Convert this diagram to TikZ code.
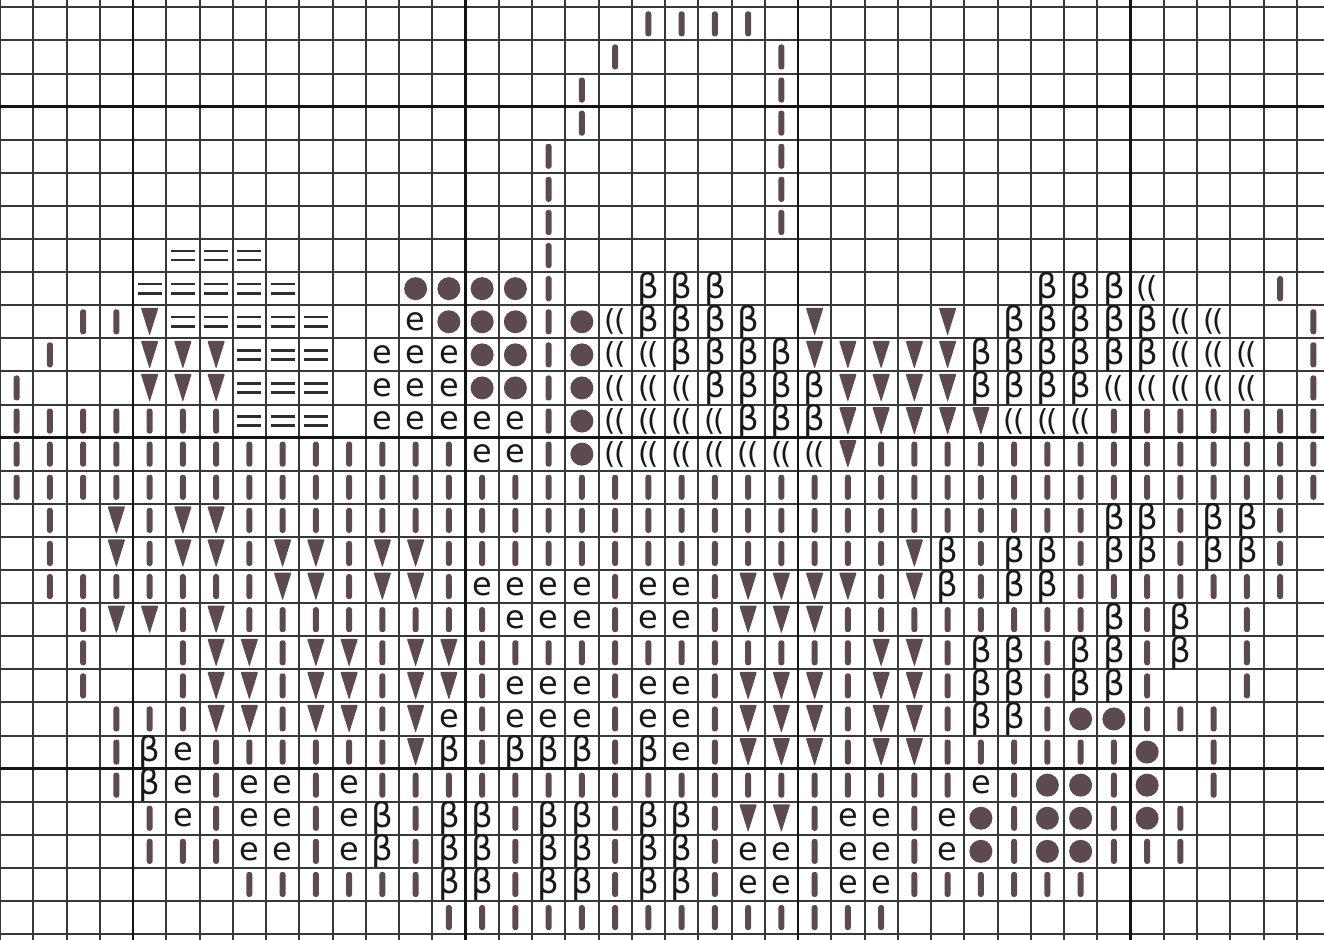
\documentclass[tikz,border=0pt]{standalone}
\usepackage{fontspec}
\setmainfont{DejaVu Sans}
\definecolor{ink}{RGB}{92,74,79}
\begin{document}
\begin{tikzpicture}[x=16.625pt,y=-16.55pt,
  gridline/.style={line width=1pt,draw=black!78},
  majorline/.style={line width=1.3pt,draw=black!92},
  stitchbar/.style={rectangle,fill=ink,minimum width=2.9pt,minimum height=12.5pt,rounded corners=1.2pt,inner sep=0pt},
  stitchdot/.style={circle,fill=ink,minimum size=11.5pt,inner sep=0pt},
  stitchletter/.style={inner sep=0pt,text=black!90,font=\fontsize{16}{16}\selectfont},
  stitchbeta/.style={inner sep=0pt,text=black!90,font=\fontsize{17}{17}\selectfont},
  stitchparen/.style={inner sep=0pt,text=black!90,font=\fontsize{14.5}{14.5}\selectfont},
  eqline/.style={line width=1.25pt,draw=black!82},
  trifill/.style={fill=ink,rounded corners=0.5pt}
]
\useasboundingbox (0,-0.2205) rectangle (39.82,28.178);
\fill[white] (0,-0.2205) rectangle (39.82,28.178);
\clip (0,-0.2205) rectangle (39.82,28.178);
% grid
\foreach \k in {0,...,40} \draw[gridline] (\k,-1) -- (\k,29);
\foreach \j in {0,...,28} \draw[gridline] (-1,\j) -- (41,\j);
\foreach \k in {4,14,24,34} \draw[majorline] (\k,-1) -- (\k,29);
\foreach \j in {3,13,23} \draw[majorline] (-1,\j) -- (41,\j);
% bars
\foreach \r/\cols in {0/{19,20,21,22},1/{18,23},2/{17,23},3/{17,23},4/{16,23},5/{16,23},6/{16,23},7/{16},8/{16,38},
 9/{2,3,16,39},10/{1,16,39},11/{0,16,39},
 12/{0,1,2,3,4,5,6,16,33,34,35,36,37,38,39},
 13/{0,1,2,3,4,5,6,7,8,9,10,11,12,13,16,26,27,28,29,30,31,32,33,34,35,36,37,38,39},
 14/{0,1,2,3,4,5,6,7,8,9,10,11,12,13,14,15,16,17,18,19,20,21,22,23,24,25,26,27,28,29,30,31,32,33,34,35,36,37,38,39},
 15/{1,4,7,8,9,10,11,12,13,14,15,16,17,18,19,20,21,22,23,24,25,26,27,28,29,30,31,32,35,38},
 16/{1,4,7,10,13,14,15,16,17,18,19,20,21,22,23,24,25,26,29,32,35,38},
 17/{1,2,3,4,5,6,7,10,13,18,21,26,29,32,33,34,35,36,37,38},
 18/{2,5,7,8,9,10,11,12,13,14,18,21,25,26,27,28,29,30,31,32,34,37},
 19/{2,5,8,11,14,15,16,17,18,19,20,21,22,23,24,25,28,31,34,37},
 20/{2,5,8,11,14,18,21,25,28,31,34,37},
 21/{3,4,5,8,11,14,18,21,25,28,31,34,35,36},
 22/{3,6,7,8,9,10,11,14,18,21,25,28,29,30,31,32,33,36},
 23/{3,6,9,11,12,13,14,15,16,17,18,19,20,21,22,23,24,25,26,27,28,30,33,36},
 24/{4,6,9,12,15,18,21,24,27,30,33,35},
 25/{4,5,6,9,12,15,18,21,24,27,30,33,34,35},
 26/{7,8,9,10,11,12,15,18,21,24,27,28,29,30,31,32},
 27/{13,14,15,16,17,18,19,20,21,22,23,24,25,26}}
 {\foreach \c in \cols {\node[stitchbar] (bar-\r-\c) at (\c+0.5,\r+0.5) {};}}
% triangles
\foreach \r/\cols in {9/{4,24,28},10/{4,5,6,24,25,26,27,28},11/{4,5,6,25,26,27,28},12/{25,26,27,28,29},13/{25},
 15/{3,5,6},16/{3,5,6,8,9,11,12,27},17/{8,9,11,12,22,23,24,25,27},18/{3,4,6,22,23,24},
 19/{6,7,9,10,12,13,26,27},20/{6,7,9,10,12,13,22,23,24,26,27},21/{6,7,9,10,12,22,23,24,26,27},
 22/{12,22,23,24,26,27},24/{22,23}}
 {\foreach \c in \cols {\coordinate (tri-\r-\c) at (\c+0.5,\r+0.5);
   \fill[trifill] ([shift={(-4.4pt,7pt)}]tri-\r-\c) -- ([shift={(4.4pt,7pt)}]tri-\r-\c) -- ([shift={(0pt,-7pt)}]tri-\r-\c) -- cycle;}}
% dots
\foreach \r/\cols in {8/{12,13,14,15},9/{13,14,15,17},10/{14,15,17},11/{14,15,17},12/{17},13/{17},
 21/{32,33},22/{34},23/{31,32,34},24/{29,31,32,34},25/{29,31,32}}
 {\foreach \c in \cols {\node[stitchdot] (dot-\r-\c) at (\c+0.5,\r+0.5) {};}}
% e
\foreach \r/\cols in {9/{12},10/{11,12,13},11/{11,12,13},12/{11,12,13,14,15},13/{14,15},
 17/{14,15,16,17,19,20},18/{15,16,17,19,20},20/{15,16,17,19,20},21/{13,15,16,17,19,20},
 22/{5,20},23/{5,7,8,10,29},24/{5,7,8,10,25,26,28},25/{7,8,10,22,23,25,26,28},26/{22,23,25,26}}
 {\foreach \c in \cols {\node[stitchletter] (e-\r-\c) at (\c+0.5,\r+0.5) {e};}}
% beta
\foreach \r/\cols in {8/{19,20,21,31,32,33},9/{19,20,21,22,30,31,32,33,34},10/{20,21,22,23,29,30,31,32,33,34},
 11/{21,22,23,24,29,30,31,32},12/{22,23,24},
 15/{33,34,36,37},16/{28,30,31,33,34,36,37},17/{28,30,31},18/{33,35},19/{29,30,32,33,35},20/{29,30,32,33},21/{29,30},
 22/{4,13,15,16,17,19},23/{4},24/{11,13,14,16,17,19,20},25/{11,13,14,16,17,19,20},26/{13,14,16,17,19,20}}
 {\foreach \c in \cols {\node[stitchbeta] (b-\r-\c) at (\c+0.5,\r+0.5) {β};}}
% double parentheses
\foreach \r/\cols in {8/{34},9/{18,35,36},10/{18,19,35,36,37},11/{18,19,20,33,34,35,36,37},12/{18,19,20,21,30,31,32},
 13/{18,19,20,21,22,23,24}}
 {\foreach \c in \cols {\node[stitchparen] (p-\r-\c) at (\c+0.5,\r+0.5) {(\kern-1pt(};}}
% equals
\foreach \r/\cols in {7/{5,6,7},8/{4,5,6,7,8},9/{5,6,7,8,9},10/{7,8,9},11/{7,8,9},12/{7,8,9}}
 {\foreach \c in \cols {\coordinate (eq-\r-\c) at (\c+0.5,\r+0.5);
   \draw[eqline] ([shift={(-6pt,2.3pt)}]eq-\r-\c) -- ++(12pt,0pt);
   \draw[eqline] ([shift={(-6pt,-2.3pt)}]eq-\r-\c) -- ++(12pt,0pt);}}
\end{tikzpicture}
\end{document}
